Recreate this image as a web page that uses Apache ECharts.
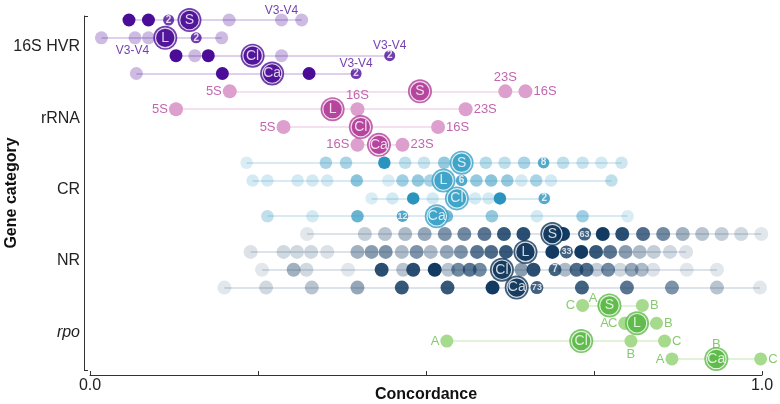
<!DOCTYPE html>
<html><head><meta charset="utf-8">
<script src="https://cdn.jsdelivr.net/npm/echarts@6/dist/echarts.min.js"></script>
<style>html,body{margin:0;padding:0;background:#fff}#c{width:780px;height:404px}</style>
</head><body><div id="c"></div>
<script>
// ================= DATA =================
const groups = ['16S HVR', 'rRNA', 'CR', 'NR', 'rpo'];
const rowNames = ['S', 'L', 'Cl', 'Ca'];
const xTicks = [0, 0.25, 0.5, 0.75, 1];

// medians (big labelled circles), order S, L, Cl, Ca
const hvrMedian  = [0.148, 0.112, 0.242, 0.271];
const rrnaMedian = [0.491, 0.361, 0.403, 0.430];
const crMedian   = [0.553, 0.526, 0.546, 0.516];
const nrMedian   = [0.688, 0.648, 0.613, 0.635];
const rpoMedian  = [0.773, 0.814, 0.731, 0.932];

// individual concordances: [value, relative frequency]
const hvrS  = [[0.058,1],[0.087,1],[0.207,0.15],[0.285,0.15],[0.315,0.15]];
const hvrL  = [[0.017,0.15],[0.067,0.15],[0.087,0.15],[0.196,0.15]];
const hvrCl = [[0.128,1],[0.156,0.15],[0.176,1],[0.285,0.15]];
const hvrCa = [[0.069,0.15],[0.197,1],[0.326,1]];
const hvrCount = [[0.117,2],[0.158,2],[0.446,2],[0.396,2]];
const hvrV34 = [0.285, 0.087, 0.446, 0.396];   // V3-V4 region position per row

const rrnaS  = [[0.208,'5S'],[0.618,'23S'],[0.648,'16S']];
const rrnaL  = [[0.128,'5S'],[0.398,'16S'],[0.559,'23S']];
const rrnaCl = [[0.288,'5S'],[0.518,'16S']];
const rrnaCa = [[0.398,'16S'],[0.465,'23S']];

const crS  = [[0.233,0.12],[0.351,0.35],[0.381,0.35],[0.438,1],[0.469,0.25],[0.497,0.2],[0.527,0.45],[0.589,0.3],[0.617,0.25],[0.646,0.35],[0.704,0.25],[0.733,0.2],[0.761,0.15],[0.791,0.18]];
const crL  = [[0.242,0.15],[0.264,0.15],[0.309,0.15],[0.331,0.15],[0.353,0.15],[0.397,0.5],[0.444,0.12],[0.465,0.4],[0.488,0.45],[0.506,0.35],[0.575,0.45],[0.597,0.5],[0.621,0.45],[0.642,0.15],[0.664,0.35],[0.686,0.15],[0.776,0.25]];
const crCl = [[0.419,0.12],[0.450,0.15],[0.481,1],[0.510,0.15],[0.573,0.15],[0.593,0.15],[0.610,1]];
const crCa = [[0.264,0.25],[0.331,0.15],[0.398,0.65],[0.531,0.6],[0.598,0.45],[0.665,0.15],[0.733,0.4],[0.800,0.12]];
const crCount = [[0.675,8],[0.553,6],[0.676,2],[0.465,12]];

const nrS  = [[0.323,0.12],[0.409,0.25],[0.439,0.3],[0.469,0.35],[0.498,0.45],[0.528,0.55],[0.557,0.6],[0.587,0.7],[0.616,0.85],[0.645,0.9],[0.704,1],[0.763,1],[0.792,0.9],[0.823,0.75],[0.853,0.6],[0.882,0.4],[0.911,0.3],[0.940,0.25],[0.969,0.2],[0.999,0.12]];
const nrL  = [[0.239,0.15],[0.288,0.2],[0.308,0.2],[0.329,0.2],[0.353,0.15],[0.398,0.4],[0.419,0.5],[0.440,0.55],[0.464,0.35],[0.486,0.55],[0.507,0.35],[0.531,0.45],[0.552,0.55],[0.576,0.7],[0.597,0.75],[0.619,0.85],[0.688,1],[0.731,1],[0.753,0.85],[0.774,0.7],[0.797,0.5],[0.818,0.35],[0.839,0.25],[0.863,0.2],[0.887,0.15]];
const nrCl = [[0.256,0.12],[0.303,0.4],[0.322,0.2],[0.384,0.12],[0.434,0.9],[0.466,0.3],[0.481,0.9],[0.513,1],[0.533,0.3],[0.548,0.6],[0.565,0.7],[0.580,0.6],[0.642,0.5],[0.660,0.9],[0.707,0.35],[0.724,0.75],[0.739,0.75],[0.754,0.25],[0.771,0.6],[0.789,0.2],[0.806,0.45],[0.821,0.35],[0.838,0.15],[0.888,0.12],[0.933,0.12]];
const nrCa = [[0.200,0.12],[0.262,0.2],[0.330,0.3],[0.398,0.45],[0.464,0.85],[0.532,0.85],[0.599,1],[0.732,0.8],[0.799,0.7],[0.866,0.55],[0.933,0.3],[0.997,0.12]];
const nrCount = [[0.736,63],[0.709,33],[0.692,7],[0.665,73]];

const rpoS  = [[0.733,'C'],[0.765,'A'],[0.822,'B']];
const rpoL  = [[0.796,'A'],[0.796,'C'],[0.843,'B']];
const rpoCl = [[0.531,'A'],[0.805,'B'],[0.855,'C']];
const rpoCa = [[0.866,'A'],[0.932,'B'],[0.998,'C']];

// ================= STYLE =================
const FONT = 'Liberation Sans, Arial, sans-serif';
const styles = [
  {pt:'#4b0c97', line:'#ddd1ee', big:'#4b0c97', text:'#4b0c97', size:13, cnt:11, minOp:0.13},
  {pt:'#dd9fcd', line:'#f4e0f0', big:'#b23d99', text:'#b23d99', size:14, cnt:11, minOp:0},
  {pt:'#2a94be', line:'#d9eaf3', big:'#3aa0c7', text:'#2f97bf', size:12.5, cnt:11.5, minOp:0.05},
  {pt:'#133b62', line:'#dde3ea', big:'#0e345a', text:'#133b62', size:14, cnt:13, minOp:0},
  {pt:'#a6da8c', line:'#e2f2da', big:'#5bb946', text:'#66bd4b', size:13, cnt:11, minOp:0}
];
// label placement for annotated points (rRNA, rpo) and V3-V4 labels
const rrnaLabelPos = [
  [{p:'left'},{p:'top',d:0},{p:'right'}],
  [{p:'left'},{p:'top',d:0},{p:'right'}],
  [{p:'left'},{p:'right'}],
  [{p:'left'},{p:'right'}]
];
const rpoLabelPos = [
  [{p:'left'},{p:'top',o:[-11,7]},{p:'right'}],
  [{p:'left',o:[-8.5,0]},{p:'left'},{p:'right'}],
  [{p:'left'},{p:'bottom',d:0},{p:'right'}],
  [{p:'left'},{p:'top',d:2},{p:'right'}]
];
const hvrLabelPos = [{p:'top',d:-3},{p:'bottom',d:0,o:[-16,0]},{p:'top',d:-2},{p:'top',d:-2}];

const groupData = [
  {rows:[hvrS,hvrL,hvrCl,hvrCa], median:hvrMedian, counts:hvrCount},
  {rows:[rrnaS,rrnaL,rrnaCl,rrnaCa], median:rrnaMedian, labelPos:rrnaLabelPos},
  {rows:[crS,crL,crCl,crCa], median:crMedian, counts:crCount},
  {rows:[nrS,nrL,nrCl,nrCa], median:nrMedian, counts:nrCount},
  {rows:[rpoS,rpoL,rpoCl,rpoCa], median:rpoMedian, labelPos:rpoLabelPos}
];

const series = [];
groupData.forEach((G, g) => {
  const C = styles[g];
  const lineData = [], ptData = [], cntData = [], bigData = [], labData = [];
  G.rows.forEach((pts, r) => {
    const y = g * 4 + r;
    const xs = pts.map(p => p[0]).concat([G.median[r]]);
    if (G.counts) xs.push(G.counts[r][0]);
    lineData.push({coords: [[Math.min(...xs), y], [Math.max(...xs), y]]});
    pts.forEach((p, i) => {
      const w = typeof p[1] === 'number' ? p[1] : 1;
      ptData.push({value: [p[0], y], w: w, itemStyle: {opacity: Math.min(1, w + C.minOp)}});
      if (typeof p[1] === 'string') {
        const lp = G.labelPos[r][i];
        labData.push({value: [p[0], y], name: p[1], symbolSize: C.size,
          label: {position: lp.p, distance: lp.d !== undefined ? lp.d : 1, offset: lp.o || [0, 0]}});
      }
    });
    if (G.counts) {
      const c = G.counts[r];
      cntData.push({value: [c[0], y], name: String(c[1]),
        label: {fontSize: c[1] >= 10 ? 9 : 10}});
    }
    bigData.push({value: [G.median[r], y], name: rowNames[r]});
  });
  if (g === 0) {
    hvrV34.forEach((x, r) => {
      const lp = hvrLabelPos[r];
      const isCnt = G.counts[r][0] === x;
      labData.push({value: [x, r], name: 'V3-V4', symbolSize: isCnt ? C.cnt : C.size,
        label: {position: lp.p, distance: lp.d, offset: lp.o || [0, 0], fontSize: 12}});
    });
  }
  ptData.sort((a, b) => a.w - b.w);
  series.push({type: 'lines', coordinateSystem: 'cartesian2d', z: 1, silent: true,
    lineStyle: {color: C.line, width: 2, opacity: 1}, data: lineData});
  series.push({type: 'scatter', z: 2, symbolSize: C.size, silent: true,
    itemStyle: {color: C.pt}, data: ptData});
  if (cntData.length) series.push({type: 'scatter', z: 3, symbolSize: C.cnt, silent: true,
    itemStyle: {color: C.pt},
    label: {show: true, position: 'inside', formatter: '{b}', color: '#fff', fontFamily: FONT, fontWeight: 'bold'},
    data: cntData});
  series.push({type: 'scatter', z: 4, symbolSize: 24, silent: true,
    itemStyle: {color: C.big}, data: bigData});
  series.push({type: 'scatter', z: 5, symbolSize: 19.5, silent: true,
    itemStyle: {color: C.big, borderColor: '#fff', borderWidth: 1.2},
    label: {show: true, position: 'inside', formatter: '{b}', color: '#fff', fontSize: 14, fontFamily: FONT},
    data: bigData});
  if (labData.length) series.push({type: 'scatter', z: 8, silent: true,
    itemStyle: {color: 'rgba(0,0,0,0)'},
    label: {show: true, formatter: '{b}', color: C.text, fontSize: 13, fontFamily: FONT},
    data: labData});
});

const yMin = -0.224, yMax = 19.62;
const chart = echarts.init(document.getElementById('c'), null, {renderer: 'canvas'});
chart.setOption({
  animation: false,
  backgroundColor: '#fff',
  grid: {left: 90, right: 18, top: 16, bottom: 34, containLabel: false, outerBoundsMode: 'none'},
  xAxis: {
    type: 'value', min: 0, max: 1, interval: 0.25, offset: 5,
    name: 'Concordance', nameLocation: 'middle', nameGap: 12, nameMoveOverlap: false,
    nameTextStyle: {fontSize: 16, fontWeight: 'bold', color: '#111', fontFamily: FONT},
    axisLine: {show: true, onZero: false, lineStyle: {color: '#333', width: 1}},
    axisTick: {show: true, inside: true, length: 4, lineStyle: {color: '#333'}},
    axisLabel: {margin: 3, fontSize: 16, color: '#222', fontFamily: FONT,
      formatter: v => (v === xTicks[0] ? '0.0' : v === xTicks[4] ? '1.0' : '')},
    splitLine: {show: false}
  },
  yAxis: {
    type: 'value', inverse: true, min: yMin, max: yMax, offset: 6,
    name: 'Gene category', nameLocation: 'middle', nameGap: 64, nameRotate: 90, nameMoveOverlap: false,
    nameTextStyle: {fontSize: 16, fontWeight: 'bold', color: '#111', fontFamily: FONT},
    axisLine: {show: true, onZero: false, lineStyle: {color: '#333', width: 1}},
    axisTick: {show: true, inside: true, length: 4, customValues: [yMin, yMax], lineStyle: {color: '#333'}},
    axisLabel: {margin: 4, fontSize: 16, color: '#222', fontFamily: FONT,
      customValues: groups.map((_, i) => i * 4 + 1.5),
      formatter: v => {
        const name = groups[Math.round((v - 1.5) / 4)];
        return name === 'rpo' ? '{i|' + name + '}' : name;
      },
      rich: {i: {fontStyle: 'italic', fontSize: 16, color: '#222', fontFamily: FONT}}},
    splitLine: {show: false}
  },
  series: series
});
</script></body></html>
